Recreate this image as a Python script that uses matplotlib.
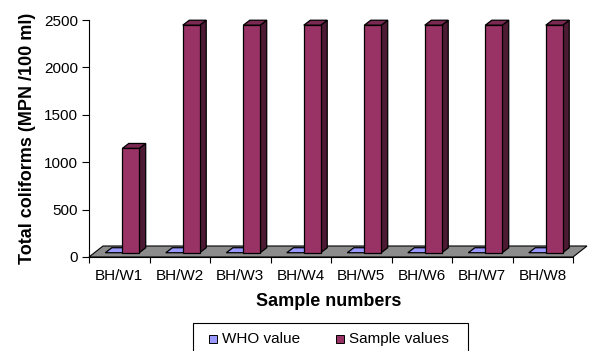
import matplotlib
matplotlib.use("Agg")
import matplotlib.pyplot as plt
from matplotlib.patches import Polygon, Rectangle

# Data
samples = ["BH/W1", "BH/W2", "BH/W3", "BH/W4", "BH/W5", "BH/W6", "BH/W7", "BH/W8"]
who_value = [0, 0, 0, 0, 0, 0, 0, 0]
sample_values = [1100, 2400, 2400, 2400, 2400, 2400, 2400, 2400]
y_ticks = [0, 500, 1000, 1500, 2000, 2500]

plt.rcParams["font.family"] = ["Liberation Sans", "DejaVu Sans"]

W, H = 589, 351
fig = plt.figure(figsize=(W / 100, H / 100), dpi=100)
ax_l, ax_r, ax_t, ax_b = 89, 573, 20, 257
ax = fig.add_axes([ax_l / W, (H - ax_b) / H, (ax_r - ax_l) / W, (ax_b - ax_t) / H])
n = len(samples)
ax.set_xlim(0, n)
ax.set_ylim(0, 2500)

# pixel -> data unit conversions
ux = n / (ax_r - ax_l)
uy = 2500 / (ax_b - ax_t)

# floor
fdx, fdy = 14 * ux, 11 * uy
floor = Polygon([(0, 0), (n, 0), (n + fdx, fdy), (fdx, fdy)], closed=True,
                facecolor="#8c8c8c", edgecolor="black", linewidth=0.8,
                clip_on=False, zorder=1)
ax.add_patch(floor)

# 3D box helper
bdx, bdy = 6.5 * ux, 5 * uy
base = 45


def box(x0, w, v, front, side, top, z):
    y0, y1 = base, base + v
    kw = dict(edgecolor="black", linewidth=0.9, clip_on=False, zorder=z)
    ax.add_patch(Polygon([(x0 + w, y0), (x0 + w + bdx, y0 + bdy),
                          (x0 + w + bdx, y1 + bdy), (x0 + w, y1)],
                         facecolor=side, **kw))
    ax.add_patch(Polygon([(x0, y1), (x0 + w, y1), (x0 + w + bdx, y1 + bdy),
                          (x0 + bdx, y1 + bdy)], facecolor=top, **kw))
    if v > 0:
        ax.add_patch(Rectangle((x0, y0), w, v, facecolor=front, **kw))


bw = 0.28
for i in range(n):
    box(i + 0.27, bw, who_value[i], "#9999ff", "#4d4d80", "#9999ff", 3 + 2 * i)
    box(i + 0.55, bw, sample_values[i], "#993366", "#4d1a33", "#7a2952", 4 + 2 * i)

# axes styling
for s in ["top", "right"]:
    ax.spines[s].set_visible(False)
ax.spines["left"].set_color("black")
ax.spines["bottom"].set_color("black")
ax.spines["left"].set_linewidth(0.8)
ax.spines["bottom"].set_linewidth(0.8)
ax.spines["left"].set_zorder(50)

ax.set_yticks(y_ticks)
ax.set_yticklabels([str(t) for t in y_ticks], fontsize=11)
ax.tick_params(axis="y", direction="out", length=5, width=0.8, pad=3)

ax.set_xticks(range(n + 1))
ax.set_xticklabels([])
ax.set_xticks([i + 0.5 for i in range(n)], minor=True)
ax.set_xticklabels(samples, minor=True, fontsize=11)
ax.tick_params(axis="x", which="major", direction="out", length=4, width=0.8)
ax.tick_params(axis="x", which="minor", length=0, pad=9)

ax.set_ylabel("Total coliforms (MPN /100 ml)", fontsize=13, fontweight="bold", labelpad=6)
fig.text(329 / W, 1 - 302 / H, "Sample numbers", fontsize=13, fontweight="bold",
         ha="center", va="center")

# legend box
lx0, lx1, ly0 = 193, 468, 323
fig.add_artist(Rectangle((lx0 / W, 1 - (H + 5) / H), (lx1 - lx0) / W, (H + 5 - ly0) / H,
                         transform=fig.transFigure, facecolor="white",
                         edgecolor="black", linewidth=0.8, clip_on=False))
ly = 1 - 339 / H
for mx, col, label in [(213, "#9999ff", "WHO value"), (340, "#993366", "Sample values")]:
    fig.add_artist(Rectangle(((mx - 4) / W, ly - 4 / H), 8 / W, 8 / H,
                             transform=fig.transFigure, facecolor=col,
                             edgecolor="black", linewidth=0.7))
    fig.text((mx + 9) / W, ly, label, fontsize=11, ha="left", va="center")

fig.savefig("out.png", dpi=100)
